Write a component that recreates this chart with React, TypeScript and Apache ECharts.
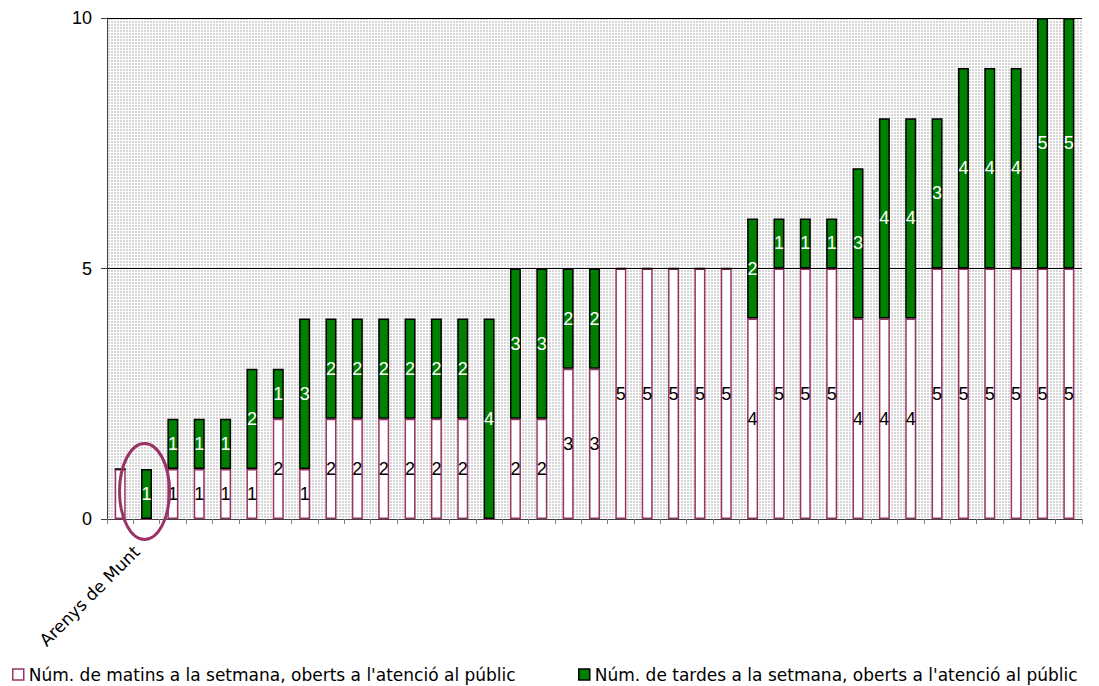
import React, { useEffect, useRef } from "react";
import * as echarts from "echarts";

const categories = [
  "", "Arenys de Munt", "", "", "", "", "", "", "", "", "", "", "", "", "", "", "", "", "",
  "", "", "", "", "", "", "", "", "", "", "", "", "", "", "", "", "", "",
];
const mornings = [1, 0, 1, 1, 1, 1, 2, 1, 2, 2, 2, 2, 2, 2, 0, 2, 2, 3, 3, 5, 5, 5, 5, 5, 4, 5, 5, 5, 4, 4, 4, 5, 5, 5, 5, 5, 5];
const afternoons = [0, 1, 1, 1, 1, 2, 1, 3, 2, 2, 2, 2, 2, 2, 4, 3, 3, 2, 2, 0, 0, 0, 0, 0, 2, 1, 1, 1, 3, 4, 4, 3, 4, 4, 4, 5, 5];
const hiddenMorningLabels = [0];
const yMin = 0;
const yMax = 10;
const yInterval = 5;
const seriesNames = [
  "Núm. de matins a la setmana, oberts a l'atenció al públic",
  "Núm. de tardes a la setmana, oberts a l'atenció al públic",
];
const highlighted = "Arenys de Munt";

const FONT = "'Liberation Sans', Arial, sans-serif";
const WIDE_FONT = "'DejaVu Sans', 'Liberation Sans', sans-serif";
const PURPLE = "#993366";
const GREEN = "#008000";

function makePattern() {
  try {
    const c = document.createElement("canvas");
    c.width = 3;
    c.height = 3;
    const ctx = c.getContext("2d");
    if (!ctx) return "#ececec";
    ctx.fillStyle = "#ffffff";
    ctx.fillRect(0, 0, 3, 3);
    ctx.fillStyle = "#d6d6d6";
    ctx.fillRect(0, 0, 2, 2);
    return { image: c.toDataURL(), repeat: "repeat", imageWidth: 3, imageHeight: 3 } as any;
  } catch (e) {
    return "#ececec";
  }
}

export default function App() {
  const ref = useRef<HTMLDivElement>(null);
  useEffect(() => {
    if (!ref.current) return;
    const chart = echarts.init(ref.current, undefined, { renderer: "svg" });
    const labelFmt = (p: any) => (p.value === 0 ? "" : String(p.value));
    chart.setOption({
      animation: false,
      textStyle: { fontFamily: FONT },
      grid: {
        left: 107,
        top: 18,
        right: 17,
        bottom: 167,
        show: true,
        borderWidth: 0,
        backgroundColor: makePattern(),
      },
      legend: [
        {
          left: 7,
          top: 661,
          icon: "rect",
          itemWidth: 11,
          itemHeight: 11,
          selectedMode: false,
          textStyle: { fontSize: 17, color: "#000", fontFamily: WIDE_FONT },
          data: [
            { name: seriesNames[0], itemStyle: { color: "#ffffff", borderColor: PURPLE, borderWidth: 1.5 } },
          ],
        },
        {
          left: 573,
          top: 661,
          icon: "rect",
          itemWidth: 11,
          itemHeight: 11,
          selectedMode: false,
          textStyle: { fontSize: 17, color: "#000", fontFamily: WIDE_FONT },
          data: [
            { name: seriesNames[1], itemStyle: { color: GREEN, borderColor: "#000", borderWidth: 1.5 } },
          ],
        },
      ],
      xAxis: {
        type: "category",
        data: categories,
        axisLine: { show: true, lineStyle: { color: "#404040", width: 1 } },
        axisTick: { show: true, interval: 0, length: 5, lineStyle: { color: "#808080" } },
        axisLabel: {
          interval: 0,
          rotate: 45,
          margin: 20,
          padding: [0, 14, 0, 0],
          fontSize: 17,
          color: "#000",
          fontFamily: WIDE_FONT,
        },
        splitLine: { show: false },
      },
      yAxis: {
        type: "value",
        min: yMin,
        max: yMax,
        interval: yInterval,
        axisLine: { show: true, lineStyle: { color: "#404040", width: 1 } },
        axisTick: { show: true, length: 6, lineStyle: { color: "#404040" } },
        axisLabel: { fontSize: 18, color: "#000", margin: 15, fontFamily: FONT },
        splitLine: { show: true, lineStyle: { color: "#000", width: 1 } },
      },
      series: [
        {
          name: seriesNames[0],
          type: "bar",
          stack: "total",
          barWidth: 11,
          itemStyle: { color: "#ffffff", borderColor: PURPLE, borderWidth: 1.5 },
          label: {
            show: true,
            position: "inside",
            color: "#000",
            fontSize: 18,
            fontFamily: FONT,
            formatter: labelFmt,
          },
          data: mornings.map((v, i) =>
            hiddenMorningLabels.includes(i) ? { value: v, label: { show: false } } : v
          ),
        },
        {
          name: seriesNames[1],
          type: "bar",
          stack: "total",
          barWidth: 11,
          itemStyle: { color: GREEN, borderColor: "#000", borderWidth: 1.5 },
          label: {
            show: true,
            position: "inside",
            color: "#fff",
            fontSize: 18,
            fontFamily: FONT,
            formatter: labelFmt,
          },
          data: afternoons,
        },
      ],
    });
    const idx = categories.indexOf(highlighted);
    const c = chart.convertToPixel({ xAxisIndex: 0, yAxisIndex: 0 }, [idx, 0.55]) as number[];
    if (c) {
      chart.setOption({
        graphic: [
          {
            type: "ellipse",
            z: 100,
            shape: { cx: c[0] - 2, cy: c[1], rx: 25, ry: 48 },
            style: { fill: "none", stroke: PURPLE, lineWidth: 3 },
          },
        ],
      });
    }
    return () => chart.dispose();
  }, []);
  return (
    <div
      ref={ref}
      style={{ position: "fixed", left: 0, top: 0, width: 1099, height: 686, background: "#fff" }}
    />
  );
}
